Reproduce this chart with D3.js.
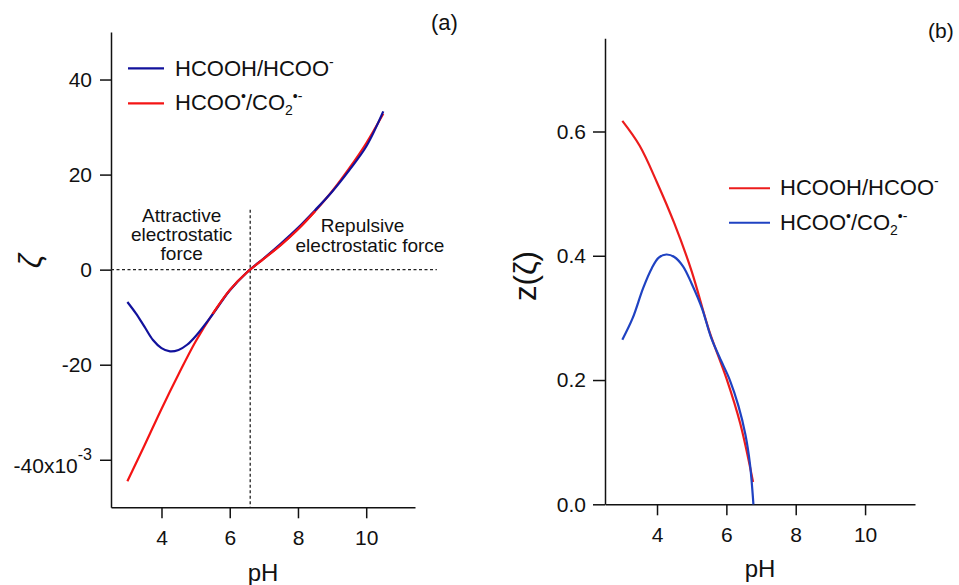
<!DOCTYPE html>
<html>
<head>
<meta charset="utf-8">
<script src="https://cdn.jsdelivr.net/npm/d3@7"></script>
<style>
  body { margin: 0; background: #fff; }
  svg text { font-family: "Liberation Sans", Arial, sans-serif; fill: #111; }
</style>
</head>
<body>
<svg id="chart" width="959" height="585"></svg>
<script>
// ---- panel (a): zeta vs pH (values x1e-3) ----
var phAcidA = [3.0, 3.25, 3.5, 3.75, 4.0, 4.25, 4.5, 4.75, 5.0, 5.5, 6.0, 6.5, 7.0, 7.5, 8.0, 8.5, 9.0, 9.5, 10.0, 10.5];
var zetaAcidA = [-6.8, -9.2, -12.0, -14.8, -16.5, -17.2, -16.9, -15.8, -14.0, -9.4, -4.4, -0.6, 2.4, 5.5, 8.8, 12.5, 16.4, 20.9, 25.9, 33.3];
var phRadicalA = [3.0, 3.5, 4.0, 4.5, 5.0, 5.5, 6.0, 6.5, 7.0, 7.5, 8.0, 8.5, 9.0, 9.5, 10.0, 10.5];
var zetaRadicalA = [-44.5, -37.0, -29.3, -22.0, -15.1, -9.3, -4.3, -0.6, 2.3, 5.2, 8.5, 12.3, 16.5, 21.3, 26.6, 32.8];

// ---- panel (b): z(zeta) vs pH ----
var phAcidB = [3.0, 3.5, 4.0, 4.5, 5.0, 5.5, 6.0, 6.4, 6.77];
var zAcidB = [0.617, 0.577, 0.518, 0.452, 0.375, 0.280, 0.203, 0.130, 0.036];
var phRadicalB = [3.0, 3.3, 3.6, 3.85, 4.05, 4.27, 4.5, 4.75, 5.0, 5.3, 5.55, 5.8, 6.1, 6.35, 6.55, 6.68, 6.78];
var zRadicalB = [0.265, 0.300, 0.348, 0.380, 0.397, 0.402, 0.398, 0.383, 0.355, 0.315, 0.270, 0.237, 0.200, 0.158, 0.112, 0.065, 0.0];

// ticks
var xTicks = [4, 6, 8, 10];
var yTicksA = [-40, -20, 0, 20, 40];
var yTicksB = [0.0, 0.2, 0.4, 0.6];

// reference lines in panel (a)
var zeroLinePh = [2.52, 12.07];
var pzcPh = 6.6;
var pzcZeta = [12.6, -50];

var svg = d3.select("#chart");

function styleAxis(g) {
  g.attr("font-family", null).attr("font-size", null);
  g.select(".domain").attr("stroke", "#111").attr("stroke-width", 1.5);
  g.selectAll(".tick line").attr("stroke", "#111").attr("stroke-width", 1.5);
  g.selectAll(".tick text").style("font-size", "21px").attr("fill", "#111");
}

// write a label with sup / sub parts: [text, kind]
function richText(sel, x, y, parts, size) {
  var t = sel.append("text").attr("x", x).attr("y", y).style("font-size", size + "px");
  var shift = 0;
  parts.forEach(function (p) {
    var target = p[1] == "sup" ? -9 : p[1] == "sub" ? 5 : 0;
    t.append("tspan")
      .attr("dy", target - shift)
      .style("font-size", p[1] ? "14px" : size + "px")
      .text(p[0]);
    shift = target;
  });
  return t;
}

var acidLabel = [["HCOOH/HCOO"], ["-", "sup"]];
var radicalLabel = [["HCOO"], ["\u2022", "sup"], ["/CO"], ["2", "sub"], ["\u2022-", "sup"]];

// ================= panel (a) =================
var xA = d3.scaleLinear().domain([2.52, 11.43]).range([111, 415]);
var yA = d3.scaleLinear().domain([-50, 50]).range([507.3, 32]);

var gA = svg.append("g");

gA.append("g")
  .attr("transform", "translate(0,507.3)")
  .call(d3.axisBottom(xA).tickValues(xTicks).tickSize(11).tickSizeOuter(0).tickPadding(12).tickFormat(d => String(d)))
  .call(styleAxis);

var axA = gA.append("g")
  .attr("transform", "translate(111,0)")
  .call(d3.axisLeft(yA).tickValues(yTicksA).tickSize(11).tickSizeOuter(0).tickPadding(8).tickFormat(d => String(d)))
  .call(styleAxis);

// bottom label carries the x10^-3 exponent
axA.selectAll(".tick text").filter(d => d === -40)
  .attr("dy", "0.6em")
  .text("-40x10")
  .append("tspan").attr("dy", -13).style("font-size", "16px").text("-3");

// dotted reference lines
gA.append("line")
  .attr("x1", xA(zeroLinePh[0])).attr("x2", xA(zeroLinePh[1]))
  .attr("y1", yA(0)).attr("y2", yA(0))
  .attr("stroke", "#222").attr("stroke-width", 1.3).attr("stroke-dasharray", "3,2.5");
gA.append("line")
  .attr("x1", xA(pzcPh)).attr("x2", xA(pzcPh))
  .attr("y1", yA(pzcZeta[0])).attr("y2", yA(pzcZeta[1]))
  .attr("stroke", "#222").attr("stroke-width", 1.3).attr("stroke-dasharray", "3,2.5");

var lineA = d3.line().x(d => xA(d[0])).y(d => yA(d[1])).curve(d3.curveCatmullRom.alpha(0.5));

gA.append("path")
  .datum(d3.zip(phRadicalA, zetaRadicalA))
  .attr("d", lineA).attr("fill", "none").attr("stroke", "#f41414").attr("stroke-width", 2.2);
gA.append("path")
  .datum(d3.zip(phAcidA, zetaAcidA))
  .attr("d", lineA).attr("fill", "none").attr("stroke", "#12129c").attr("stroke-width", 2.2);
// red on top in the overlapping part
gA.append("path")
  .datum(d3.zip(phRadicalA, zetaRadicalA).filter(d => d[0] >= 5.5 && d[0] <= 8.5))
  .attr("d", lineA).attr("fill", "none").attr("stroke", "#f41414").attr("stroke-width", 2.2);

// legend (a)
gA.append("line").attr("x1", 128).attr("x2", 164).attr("y1", 68.3).attr("y2", 68.3)
  .attr("stroke", "#12129c").attr("stroke-width", 2.2);
gA.append("line").attr("x1", 128).attr("x2", 164).attr("y1", 103.3).attr("y2", 103.3)
  .attr("stroke", "#f41414").attr("stroke-width", 2.2);
richText(gA, 175, 76, acidLabel, 22);
richText(gA, 175, 110, radicalLabel, 22);

// annotations
var attractive = ["Attractive", "electrostatic", "force"];
gA.selectAll(".attr-txt").data(attractive).enter().append("text")
  .attr("class", "attr-txt")
  .attr("x", 181.7).attr("y", (d, i) => 221.7 + i * 19.2)
  .attr("text-anchor", "middle").style("font-size", "19px").text(d => d);
gA.append("text").attr("x", 362.5).attr("y", 232).attr("text-anchor", "middle")
  .style("font-size", "19px").text("Repulsive");
gA.append("text").attr("x", 370).attr("y", 251.5).attr("text-anchor", "middle")
  .style("font-size", "19px").text("electrostatic force");

gA.append("text").attr("x", 431).attr("y", 30).style("font-size", "22px").text("(a)");
gA.append("text").attr("x", 263).attr("y", 581).attr("text-anchor", "middle").style("font-size", "24px").text("pH");
gA.append("text").attr("transform", "translate(41,261) rotate(-90)")
  .attr("text-anchor", "middle").style("font-size", "31px").style("font-style", "italic").text("\u03b6");

// ================= panel (b) =================
var xB = d3.scaleLinear().domain([2.5, 11.44]).range([605, 915]);
var yB = d3.scaleLinear().domain([0, 0.75]).range([504.3, 38.3]);

var gB = svg.append("g");

gB.append("g")
  .attr("transform", "translate(0,504.3)")
  .call(d3.axisBottom(xB).tickValues(xTicks).tickSize(11).tickSizeOuter(0).tickPadding(12).tickFormat(d => String(d)))
  .call(styleAxis);

gB.append("g")
  .attr("transform", "translate(605,0)")
  .call(d3.axisLeft(yB).tickValues(yTicksB).tickSize(12).tickSizeOuter(0).tickPadding(7).tickFormat(d3.format(".1f")))
  .call(styleAxis);

var lineB = d3.line().x(d => xB(d[0])).y(d => yB(d[1])).curve(d3.curveCatmullRom.alpha(0.5));

gB.append("path")
  .datum(d3.zip(phAcidB, zAcidB))
  .attr("d", lineB).attr("fill", "none").attr("stroke", "#ec1c1c").attr("stroke-width", 2.2);
gB.append("path")
  .datum(d3.zip(phRadicalB, zRadicalB))
  .attr("d", lineB).attr("fill", "none").attr("stroke", "#1f42c2").attr("stroke-width", 2.2);

// legend (b)
gB.append("line").attr("x1", 729).attr("x2", 770).attr("y1", 188.3).attr("y2", 188.3)
  .attr("stroke", "#ec1c1c").attr("stroke-width", 2);
gB.append("line").attr("x1", 729).attr("x2", 770).attr("y1", 222.7).attr("y2", 222.7)
  .attr("stroke", "#1f42c2").attr("stroke-width", 2);
richText(gB, 780, 195, acidLabel, 22);
richText(gB, 780, 230, radicalLabel, 22);

gB.append("text").attr("x", 928).attr("y", 37.5).style("font-size", "21px").text("(b)");
gB.append("text").attr("x", 760).attr("y", 577).attr("text-anchor", "middle").style("font-size", "24px").text("pH");
gB.append("text").attr("transform", "translate(535.5,276) rotate(-90)")
  .attr("text-anchor", "middle").style("font-size", "31px").text("z(\u03b6)");
</script>
</body>
</html>
